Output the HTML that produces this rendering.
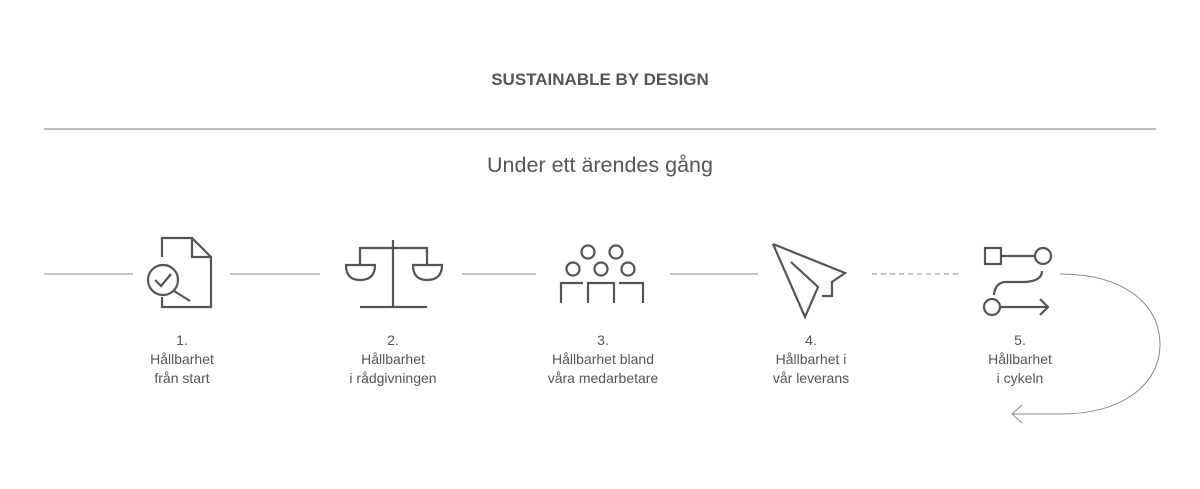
<!DOCTYPE html>
<html><head><meta charset="utf-8"><style>
html,body{margin:0;padding:0;background:#fff;width:1200px;height:489px;overflow:hidden}
svg{display:block}
text{font-family:"Liberation Sans",sans-serif;fill:#555}
</style></head><body>
<svg width="1200" height="489" viewBox="0 0 1200 489">
<text x="600" y="85" text-anchor="middle" font-size="17" font-weight="bold" fill="#555">SUSTAINABLE BY DESIGN</text>
<line x1="44" y1="129" x2="1156" y2="129" stroke="#777" stroke-width="1"/>
<text x="600" y="172" text-anchor="middle" font-size="21.5">Under ett ärendes gång</text>

<g stroke="#888" stroke-width="1" fill="none">
<line x1="44" y1="274" x2="133" y2="274"/>
<line x1="230" y1="274" x2="320" y2="274"/>
<line x1="462" y1="274" x2="536" y2="274"/>
<line x1="670" y1="274" x2="758" y2="274"/>
<line x1="872" y1="274" x2="958" y2="274" stroke-dasharray="5,4"/>
<path d="M1060,274 C1125,274 1160,305 1160,344 C1160,385 1122,414 1060,414 L1012,414 M1022,405 L1012,414 L1022,423"/>
</g>

<g stroke="#555" stroke-width="2.2" fill="none" stroke-linecap="butt">
<g>
<path d="M162,257 L162,238 L192,238 L211,257 L211,307 L162,307 L162,297"/>
<path d="M192,238 L192,257 L211,257"/>
<circle cx="163" cy="280" r="15"/>
<path d="M174,291 L190,301"/>
<path d="M155,280 L161,286 L171,274"/>
</g>
<g>
<line x1="393" y1="240" x2="393" y2="307"/>
<path d="M360,265 L360,248 L427,248 L427,265"/>
<path d="M346,265 L375,265 Q375,280 360,280 Q346,280 346,265 Z"/>
<path d="M413,265 L442,265 Q442,280 427,280 Q413,280 413,265 Z"/>
<line x1="360" y1="307" x2="427" y2="307"/>
</g>
<g>
<circle cx="588" cy="252" r="6.5"/><circle cx="616" cy="252" r="6.5"/>
<circle cx="573" cy="269" r="6.5"/><circle cx="601" cy="269" r="6.5"/><circle cx="628" cy="269" r="6.5"/>
<path d="M561,303 L561,283 L583,283"/>
<path d="M588,303 L588,283 L614,283 L614,303"/>
<path d="M619,283 L643,283 L643,303"/>
</g>
<g>
<path d="M773,244 L845,273 L832,282 L832,296 L822,296"/>
<path d="M773,244 L805,317 L818,287 L791,262"/>
</g>
<g>
<rect x="985" y="248" width="16" height="16"/>
<line x1="1001" y1="256" x2="1035" y2="256"/>
<circle cx="1043" cy="256" r="8"/>
<path d="M1042,271 Q1042,281 1025,282 L1005,282 Q995,283 994,295"/>
<circle cx="992" cy="307" r="8"/>
<path d="M1001,307 L1048,307 M1040,299 L1048,307 L1040,315"/>
</g>
</g>

<g font-size="14" text-anchor="middle">
<text x="182"><tspan x="182" y="345">1.</tspan><tspan x="182" y="364">Hållbarhet</tspan><tspan x="182" y="383">från start</tspan></text>
<text x="393"><tspan x="393" y="345">2.</tspan><tspan x="393" y="364">Hållbarhet</tspan><tspan x="393" y="383">i rådgivningen</tspan></text>
<text x="603"><tspan x="603" y="345">3.</tspan><tspan x="603" y="364">Hållbarhet bland</tspan><tspan x="603" y="383">våra medarbetare</tspan></text>
<text x="811"><tspan x="811" y="345">4.</tspan><tspan x="811" y="364">Hållbarhet i</tspan><tspan x="811" y="383">vår leverans</tspan></text>
<text x="1020"><tspan x="1020" y="345">5.</tspan><tspan x="1020" y="364">Hållbarhet</tspan><tspan x="1020" y="383">i cykeln</tspan></text>
</g>
</svg>
</body></html>
